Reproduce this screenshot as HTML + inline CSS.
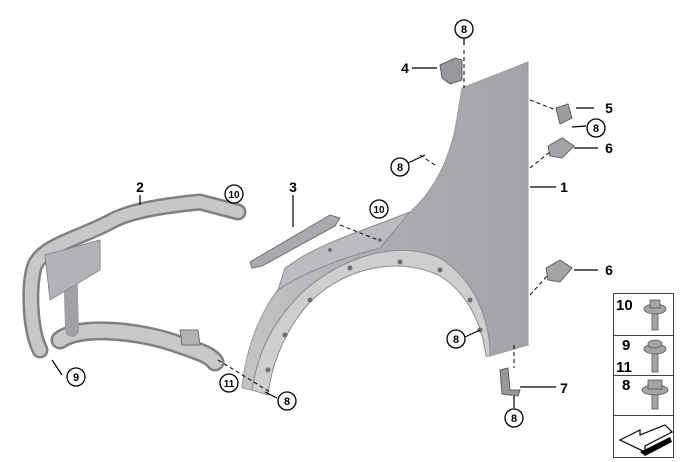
<!DOCTYPE html>
<html><head><meta charset="utf-8"><style>
html,body{margin:0;padding:0;background:#fff;}
svg{display:block;}
text{font-family:"Liberation Sans",sans-serif;font-weight:bold;fill:#000;}
</style></head><body>
<svg width="680" height="462" viewBox="0 0 680 462" xmlns="http://www.w3.org/2000/svg">
<defs>
<linearGradient id="fg" x1="0" y1="0" x2="1" y2="0">
<stop offset="0" stop-color="#c3c4c6"/><stop offset="0.5" stop-color="#acadb0"/><stop offset="1" stop-color="#a3a4a7"/></linearGradient>
</defs>
<!-- fender -->
<path d="M462,88 L528,62 L528,345 L490,356 C490,320 475,280 440,258 C400,240 345,255 305,290 C275,318 258,350 252,390 L242,388 C246,345 262,305 290,275 C320,245 370,228 410,212 C435,190 448,160 455,130 Z" fill="url(#fg)" stroke="#9a9b9e" stroke-width="1"/>
<path d="M490,356 C490,320 475,280 440,258 C400,240 345,255 305,290 C275,318 258,350 252,390 L268,395 C272,360 288,325 312,300 C350,265 400,258 438,275 C468,292 482,325 486,356 Z" fill="#cdced0" stroke="#8c8d90"/>
<path d="M410,212 C370,228 330,240 300,258 L285,268 L278,290 C300,275 340,258 380,248 Z" fill="#bbbcbf" stroke="#8c8d90"/>
<g fill="#6e6f72"><circle cx="470" cy="300" r="2.5"/><circle cx="480" cy="330" r="2.5"/><circle cx="440" cy="270" r="2.5"/><circle cx="400" cy="262" r="2.5"/><circle cx="350" cy="268" r="2.5"/><circle cx="310" cy="300" r="2.5"/><circle cx="285" cy="335" r="2.5"/><circle cx="268" cy="370" r="2.5"/><circle cx="330" cy="250" r="2"/><circle cx="380" cy="240" r="2"/></g>
<!-- part 3 -->
<path d="M250,262 L330,215 L340,218 L335,226 L262,266 L252,268 Z" fill="#a9aaad" stroke="#707174"/>
<!-- frame 2 -->
<g fill="none" stroke-linecap="round" stroke-linejoin="round">
<path d="M238,212 L200,202 C170,205 130,210 110,222 C75,240 45,245 35,265 C28,285 30,330 40,350" stroke="#808184" stroke-width="17"/>
<path d="M238,212 L200,202 C170,205 130,210 110,222 C75,240 45,245 35,265 C28,285 30,330 40,350" stroke="#c6c7c9" stroke-width="12"/>
<path d="M60,340 C80,325 140,330 180,345 C200,352 210,355 215,362" stroke="#808184" stroke-width="19"/>
<path d="M60,340 C80,325 140,330 180,345 C200,352 210,355 215,362" stroke="#c8c9cb" stroke-width="14"/>
<path d="M70,260 L72,330" stroke="#a0a1a4" stroke-width="14"/>
<path d="M45,255 L100,240 L100,270 L50,300 Z" stroke="#8a8b8e" stroke-width="1" fill="#b2b3b6"/>
</g>
<path d="M180,330 L198,330 L200,345 L182,345 Z" fill="#b2b3b5" stroke="#707174"/>
<!-- small brackets -->
<path d="M440,65 L455,58 L462,60 L462,80 L450,84 L442,78 Z" fill="#97989b" stroke="#606164"/>
<path d="M556,108 L568,104 L572,118 L560,124 Z" fill="#9c9da0" stroke="#606164"/>
<path d="M548,146 L562,138 L574,146 L562,158 L550,156 Z" fill="#a3a4a7" stroke="#606164"/>
<path d="M546,268 L560,260 L572,268 L560,282 L548,280 Z" fill="#a3a4a7" stroke="#606164"/>
<path d="M500,370 L508,368 L510,390 L520,390 L518,396 L502,394 Z" fill="#97989b" stroke="#606164"/>
<!-- leader lines -->
<g stroke="#000" stroke-width="1.2" fill="none">
<line x1="412" y1="68" x2="437" y2="68"/>
<line x1="576" y1="108" x2="594" y2="108"/>
<line x1="572" y1="127" x2="586" y2="126"/>
<line x1="574" y1="148" x2="598" y2="148"/>
<line x1="530" y1="187" x2="556" y2="187"/>
<line x1="574" y1="270" x2="598" y2="270"/>
<line x1="520" y1="387" x2="556" y2="387"/>
<line x1="408" y1="163" x2="425" y2="155"/>
<line x1="140" y1="195" x2="140" y2="205"/>
<line x1="293" y1="195" x2="293" y2="227"/>
<line x1="62" y1="375" x2="52" y2="360"/>
<line x1="465" y1="337" x2="480" y2="330"/>
<line x1="277" y1="398" x2="265" y2="392"/>
<line x1="464" y1="30" x2="464" y2="45"/>
<line x1="514" y1="408" x2="514" y2="396"/>
</g>
<g stroke="#000" stroke-width="1" stroke-dasharray="4,3" fill="none">
<line x1="464" y1="50" x2="464" y2="88"/>
<line x1="530" y1="100" x2="556" y2="110"/>
<line x1="530" y1="168" x2="550" y2="152"/>
<line x1="530" y1="295" x2="548" y2="275"/>
<line x1="514" y1="345" x2="514" y2="368"/>
<line x1="420" y1="155" x2="435" y2="165"/>
<line x1="340" y1="225" x2="378" y2="240"/>
<line x1="218" y1="360" x2="270" y2="392"/>
</g>
<!-- circled labels -->
<g stroke="#000" stroke-width="1.3" fill="#fff">
<circle cx="464" cy="29" r="9"/><circle cx="596" cy="128" r="9"/><circle cx="400" cy="167" r="9"/>
<circle cx="234" cy="194" r="9"/><circle cx="379" cy="209" r="9"/><circle cx="76" cy="377" r="9"/>
<circle cx="229" cy="383" r="9"/><circle cx="287" cy="401" r="9"/><circle cx="456" cy="339" r="9"/>
<circle cx="514" cy="418" r="9"/>
</g>
<g font-size="11" text-anchor="middle">
<text x="464" y="33">8</text><text x="596" y="132">8</text><text x="400" y="171">8</text>
<text x="234" y="198" font-size="10">10</text><text x="379" y="213" font-size="10">10</text>
<text x="76" y="381">9</text><text x="229" y="387" font-size="10">11</text>
<text x="287" y="405">8</text><text x="456" y="343">8</text><text x="514" y="422">8</text>
</g>
<g font-size="14" text-anchor="middle">
<text x="405" y="73">4</text><text x="609" y="113">5</text><text x="609" y="153">6</text>
<text x="564" y="192">1</text><text x="609" y="275">6</text><text x="564" y="393">7</text>
<text x="140" y="192">2</text><text x="293" y="192">3</text>
</g>
<!-- legend -->
<g stroke="#444" stroke-width="1" fill="#fff">
<rect x="613.5" y="293.5" width="60" height="164"/>
<line x1="613.5" y1="335.5" x2="673.5" y2="335.5"/>
<line x1="613.5" y1="375.5" x2="673.5" y2="375.5"/>
<line x1="613.5" y1="415.5" x2="673.5" y2="415.5"/>
</g>
<g font-size="15">
<text x="616" y="310">10</text><text x="622" y="350">9</text><text x="616" y="372">11</text><text x="622" y="390">8</text>
</g>
<g fill="#a4a5a8" stroke="#555" stroke-width="0.8">
<rect x="652" y="312" width="6" height="18"/><ellipse cx="655" cy="309" rx="11" ry="5"/><rect x="650" y="300" width="10" height="8"/>
<rect x="652" y="352" width="6" height="20"/><ellipse cx="655" cy="349" rx="11" ry="5"/><ellipse cx="655" cy="344" rx="7" ry="4"/>
<rect x="652" y="393" width="6" height="16"/><ellipse cx="655" cy="390" rx="13" ry="5"/><rect x="648" y="380" width="14" height="9"/>
</g>
<path d="M620,440 L640,430 L640,435 L665,425 L672,432 L645,446 L645,452 Z" fill="#fff" stroke="#000" stroke-width="1.2"/>
<path d="M640,452 L670,437 L672,442 L645,456 Z" fill="#000"/>
</svg>
</body></html>
